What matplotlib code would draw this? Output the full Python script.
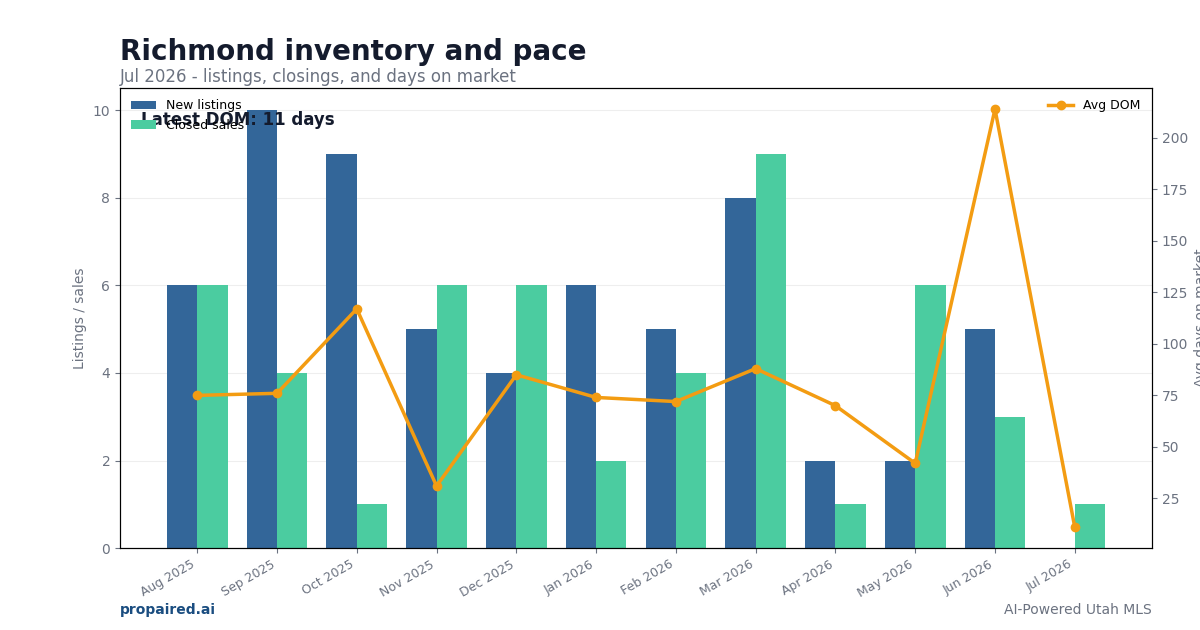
import numpy as np
import matplotlib.pyplot as plt

months = ['Aug 2025', 'Sep 2025', 'Oct 2025', 'Nov 2025', 'Dec 2025', 'Jan 2026',
          'Feb 2026', 'Mar 2026', 'Apr 2026', 'May 2026', 'Jun 2026', 'Jul 2026']
new_listings = [6, 10, 9, 5, 4, 6, 5, 8, 2, 2, 5, 0]
closed_sales = [6, 4, 1, 6, 6, 2, 4, 9, 1, 6, 3, 1]
avg_dom = [75, 76, 117, 31, 85, 74, 72, 88, 70, 42, 214, 11]

c_new = '#336699'
c_closed = '#4bcca0'
c_dom = '#f39c12'
c_gray = '#6b7280'
c_dark = '#141b2d'

fig = plt.figure(figsize=(12, 6.3), dpi=100)
ax = fig.add_axes([0.1, 0.130, 0.86, 0.730])

x = np.arange(len(months))
w = 0.38
ax.bar(x - w/2, new_listings, w, color=c_new, label='New listings', zorder=2)
ax.bar(x + w/2, closed_sales, w, color=c_closed, label='Closed sales', zorder=2)
ax.set_ylabel('Listings / sales', color=c_gray, fontsize=10)
ax.set_xticks(x)
ax.set_xticklabels(months, rotation=30, ha='right', fontsize=9, color=c_gray)
ax.tick_params(axis='y', colors=c_gray, labelsize=10)
ax.tick_params(axis='x', colors=c_gray)
ax.grid(axis='y', color='#eeeeee', lw=0.8, zorder=0)
ax.set_axisbelow(True)
ax.legend(loc='upper left', frameon=False, fontsize=9)

ax2 = ax.twinx()
ax2.plot(x, avg_dom, color=c_dom, lw=2.5, marker='o', ms=6, label='Avg DOM', zorder=3)
ax2.set_ylabel('Avg days on market', color=c_gray, fontsize=10)
ax2.tick_params(axis='y', colors=c_gray, labelsize=10)
ax2.legend(loc='upper right', frameon=False, fontsize=9)

ax.text(0.02, 0.93, f'Latest DOM: {avg_dom[-1]} days', transform=ax.transAxes,
        fontsize=12, fontweight='bold', color=c_dark, va='center')

fig.text(0.1, 0.917, 'Richmond inventory and pace', fontsize=20, fontweight='bold',
         color=c_dark, va='center')
fig.text(0.1, 0.877, 'Jul 2026 - listings, closings, and days on market', fontsize=12,
         color=c_gray, va='center')
fig.text(0.1, 0.032, 'propaired.ai', fontsize=10, fontweight='bold', color='#1a4d80', va='center')
fig.text(0.96, 0.032, 'AI-Powered Utah MLS', fontsize=10, color=c_gray, va='center', ha='right')

fig.savefig('out.png', dpi=100)
